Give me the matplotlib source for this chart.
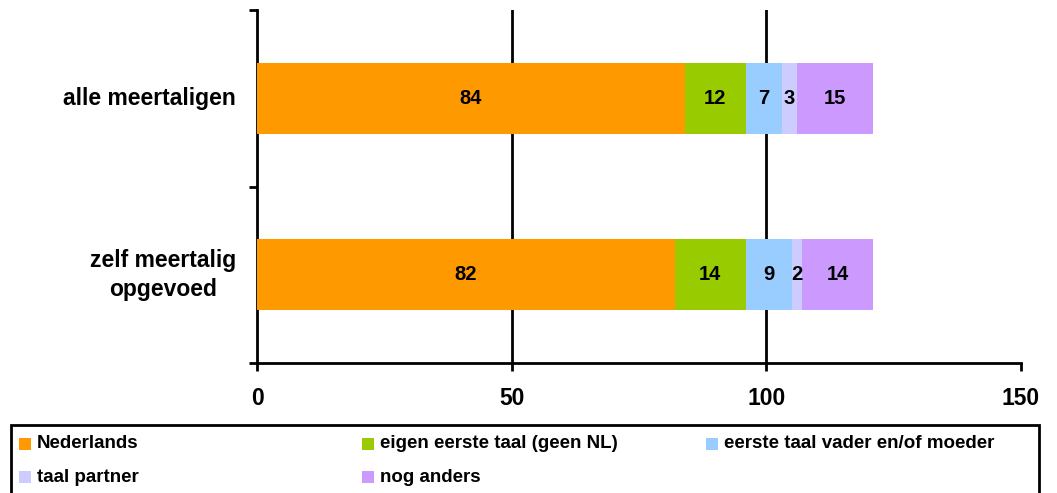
import matplotlib
matplotlib.use("Agg")
import matplotlib.pyplot as plt
from matplotlib.patches import Rectangle
import numpy as np

plt.rcParams['font.family'] = ['Liberation Sans', 'DejaVu Sans']
plt.rcParams['font.weight'] = 'bold'

categories = ["alle meertaligen", "zelf meertalig\nopgevoed"]
series_names = ["Nederlands", "eigen eerste taal (geen NL)", "eerste taal vader en/of moeder",
                "taal partner", "nog anders"]
values = {
    "Nederlands": [84, 82],
    "eigen eerste taal (geen NL)": [12, 14],
    "eerste taal vader en/of moeder": [7, 9],
    "taal partner": [3, 2],
    "nog anders": [15, 14],
}
colors = ["#FF9900", "#99CC00", "#99CCFF", "#CCCCFF", "#CC99FF"]
xticks = [0, 50, 100, 150]

W, H = 1057, 493
fig = plt.figure(figsize=(W / 100, H / 100), dpi=100)
ax = fig.add_axes([257 / W, 1 - 363 / H, (1021 - 257) / W, (363 - 10) / H])

ypos = np.arange(len(categories))
left = np.zeros(len(categories))
for name, col in zip(series_names, colors):
    v = np.array(values[name], dtype=float)
    ax.barh(ypos, v, left=left, height=0.4, color=col, edgecolor='none', zorder=3)
    for y, l, val in zip(ypos, left, v):
        ax.text(l + val / 2, y, f"{int(val)}", ha='center', va='center',
                fontsize=14.5, fontweight='bold', zorder=4)
    left += v

ax.set_xlim(0, 150)
ax.set_ylim(1.5, -0.5)
ax.set_xticks(xticks)
ax.set_xticklabels([str(t) for t in xticks], fontsize=16.5, fontweight='bold')
ax.set_yticks([-0.5, 0.5, 1.5])
ax.set_yticklabels([])
ax.tick_params(axis='y', direction='out', length=6, width=2)
ax.tick_params(axis='x', direction='out', length=6, width=2, pad=11)
for s in ['top', 'right']:
    ax.spines[s].set_visible(False)
for s in ['left', 'bottom']:
    ax.spines[s].set_linewidth(2)
for t in [50, 100]:
    ax.axvline(t, color='black', lw=2, zorder=2)

for y, c in zip(ypos, categories):
    ax.text(-21 / (764 / 150), y, c, ha='right', va='center', multialignment='center',
            fontsize=16.5, fontweight='bold', linespacing=1.35)

# legend box
fig.patches.append(Rectangle((11 / W, -0.05), (1039 - 11) / W, (0.05 + 1 - 425 / H),
                             transform=fig.transFigure, facecolor='white',
                             edgecolor='black', lw=2, zorder=1))
col_x = [19, 362, 706]
row_y = [444, 477]
for i, (name, col) in enumerate(zip(series_names, colors)):
    r, c = divmod(i, 3)
    x = col_x[c]
    y = row_y[r]
    fig.patches.append(Rectangle((x / W, 1 - (y + 6) / H), 12 / W, 12 / H,
                                 transform=fig.transFigure, facecolor=col,
                                 edgecolor='none', zorder=2))
    fig.text((x + 18) / W, 1 - y / H, name, ha='left', va='center',
             fontsize=13.5, fontweight='bold', zorder=3)

fig.savefig("out.png", dpi=100)
